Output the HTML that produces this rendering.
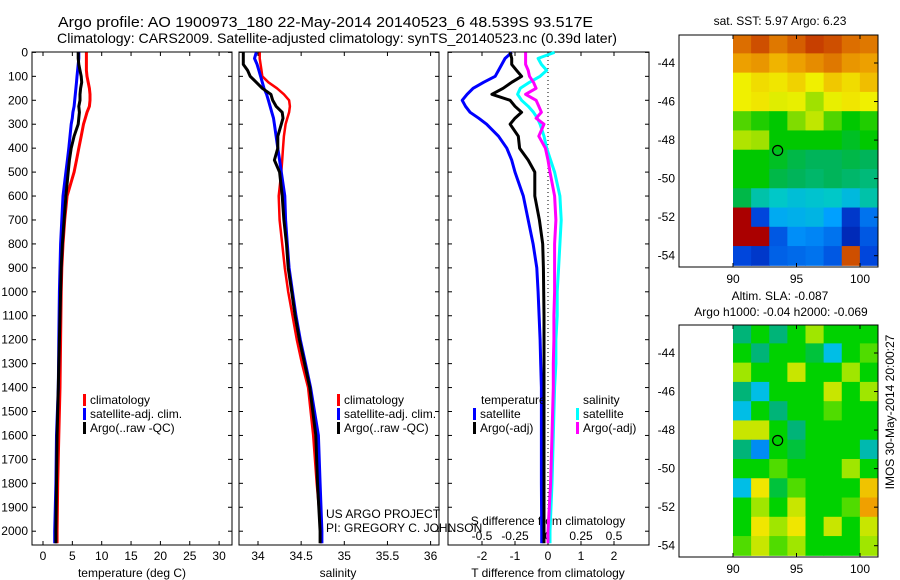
<!DOCTYPE html>
<html><head><meta charset="utf-8"><style>
body{margin:0;background:#fff}
svg{display:block;font-family:"Liberation Sans",sans-serif}
</style></head><body>
<svg id="fig" width="900" height="580" viewBox="0 0 900 580" xmlns="http://www.w3.org/2000/svg">
<rect width="900" height="580" fill="#fff"/>
<text x="58" y="27" font-size="15" textLength="535" lengthAdjust="spacingAndGlyphs">Argo profile: AO 1900973_180 22-May-2014 20140523_6 48.539S 93.517E</text>
<text x="57" y="43" font-size="14" textLength="560" lengthAdjust="spacingAndGlyphs">Climatology: CARS2009. Satellite-adjusted climatology: synTS_20140523.nc (0.39d later)</text>
<g id="g"></g>
</svg>
<script>
// ---- data ----
const depths=[0,25,50,75,100,125,150,175,200,225,250,275,300,350,400,450,500,600,700,800,900,1000,1100,1200,1300,1400,1600,1800,2000,2050];
const tClim=[7.4,7.4,7.4,7.4,7.5,7.7,7.9,8.0,8.0,7.9,7.5,7.2,6.9,6.5,6.1,5.7,5.3,4.1,3.7,3.4,3.2,3.1,3.05,3.0,2.95,2.9,2.7,2.5,2.4,2.4];
const tSat=[6.1,6.1,6.0,5.9,5.8,5.7,5.6,5.5,5.4,5.3,5.1,5.0,4.8,4.6,4.4,4.15,3.9,3.4,3.2,3.0,2.9,2.8,2.75,2.7,2.65,2.6,2.3,2.2,2.0,2.0];
const tArgo=[6.0,6.0,6.1,6.3,6.5,6.6,6.4,6.3,6.3,6.1,6.2,6.1,6.0,5.3,4.8,4.5,4.3,3.9,3.6,3.3,3.1,3.0,2.9,2.8,2.7,2.6,2.4,2.3,2.2,2.2];
const sClim=[34.02,34.02,34.03,34.04,34.05,34.12,34.22,34.30,34.36,34.37,34.36,34.34,34.32,34.30,34.29,34.28,34.27,34.24,34.25,34.28,34.31,34.35,34.40,34.45,34.51,34.58,34.64,34.68,34.73,34.73];
const sSat=[33.98,33.96,33.99,34.01,34.03,34.05,34.07,34.10,34.12,34.14,34.16,34.18,34.19,34.21,34.23,34.25,34.27,34.31,34.32,34.34,34.36,34.40,34.44,34.49,34.55,34.61,34.70,34.72,34.74,34.74];
const sArgo=[33.83,33.83,33.83,33.88,33.91,33.98,34.05,34.15,34.17,34.21,34.28,34.29,34.27,34.23,34.23,34.19,34.25,34.28,34.30,34.33,34.35,34.39,34.43,34.48,34.54,34.60,34.67,34.69,34.72,34.72];
const dtSat=[-1.1,-1.3,-1.4,-1.5,-1.6,-1.95,-2.27,-2.45,-2.6,-2.5,-2.36,-2.1,-1.86,-1.5,-1.25,-1.1,-1.0,-0.75,-0.6,-0.45,-0.34,-0.3,-0.27,-0.24,-0.22,-0.2,-0.2,-0.2,-0.19,-0.19];
const dtArgo=[-1.15,-1.1,-1.1,-0.95,-0.8,-1.1,-1.36,-1.7,-1.15,-1.0,-0.8,-1.0,-1.15,-0.9,-0.86,-0.6,-0.4,-0.4,-0.26,-0.16,-0.14,-0.13,-0.12,-0.12,-0.12,-0.12,-0.12,-0.12,-0.12,-0.12];
const dsSat=[0.05,-0.075,-0.05,-0.01,-0.06,-0.14,-0.21,-0.23,-0.2,-0.15,-0.11,-0.08,-0.06,-0.03,-0.01,0.02,0.05,0.09,0.10,0.09,0.08,0.07,0.07,0.06,0.06,0.05,0.04,0.03,0.015,0.015];
const dsArgo=[-0.17,-0.17,-0.17,-0.15,-0.14,-0.11,-0.09,-0.17,-0.09,-0.07,-0.05,-0.09,-0.03,-0.07,-0.02,0.0,0.015,0.05,0.06,0.05,0.05,0.05,0.045,0.045,0.04,0.04,0.03,0.02,0.0,0.0];
const depthTicks=[0,100,200,300,400,500,600,700,800,900,1000,1100,1200,1300,1400,1500,1600,1700,1800,1900,2000];
const tTicks=[0,5,10,15,20,25,30];
const sTicks=[34,34.5,35,35.5,36];
const dTTicks=[-2,-1,0,1,2];
const dSTicks=[-0.5,-0.25,0,0.25,0.5];
const latTicks=[-44,-46,-48,-50,-52,-54];
const lonTicks=[90,95,100];
const sstGrid=[
[9.3,9.5,9.2,9.4,9.6,9.5,9.3,9.2],
[8.8,8.9,8.6,8.8,9.0,9.2,8.9,8.8],
[8.0,8.2,8.1,8.3,8.0,8.4,8.2,8.5],
[8.0,8.1,7.8,7.9,7.0,7.9,8.1,8.0],
[6.5,6.2,6.0,6.8,7.4,6.5,6.0,6.2],
[7.2,7.0,6.0,6.0,6.0,6.0,5.8,6.0],
[6.0,6.0,5.8,5.6,5.5,5.5,5.6,5.5],
[6.0,6.0,5.6,5.5,5.4,5.5,5.4,5.3],
[5.6,5.0,4.8,4.6,4.7,4.8,4.5,5.0],
[10,3.0,4.2,4.3,4.4,4.0,2.8,3.5],
[10,10,3.2,3.8,3.7,3.5,2.6,3.2],
[3.0,2.8,3.3,3.4,3.5,3.2,9.5,3.0]];
const slaGrid=[
[-0.1,0,-0.1,0,0.1,0,0,0],
[0,-0.1,0,0,-0.05,-0.2,0,0.05],
[0.1,0,0,0.15,0,0,0.1,0],
[-0.1,-0.2,0,0,0,0.15,0,0.1],
[-0.2,0,-0.1,0,0,0.05,0,0],
[0.15,0.15,0,-0.1,0,0,0,0],
[-0.1,-0.25,0,-0.05,0,0,0,-0.15],
[0,0,0.05,0,0,0,0.1,0],
[-0.2,0.2,-0.05,0.05,0,0,0,0.25],
[0,0.1,0,0.15,0,0,0.05,0.3],
[0,0.2,0.1,0.2,0,0.15,0,0.15],
[0.05,0.15,0.05,0.1,0,0,0,0.1]];
const argoLon=93.517, argoLat=-48.539;

// ---- drawing ----
const NS="http://www.w3.org/2000/svg", G=document.getElementById('g');
function mk(t,a,p){const e=document.createElementNS(NS,t);for(const k in a)e.setAttribute(k,a[k]);(p||G).appendChild(e);return e;}
const y0=52.4, yPer=0.2394, pTop=52, pBot=545;
const yD=d=>y0+d*yPer;
function panel(x1,x2,name){
  const r=mk('rect',{x:x1,y:pTop,width:x2-x1,height:pBot-pTop,fill:'none',stroke:'#000','stroke-width':1});
  
  
}
function line(xs,fx,color,w,name){
  const pts=xs.map((v,i)=>fx(v).toFixed(1)+','+yD(depths[i]).toFixed(1)).join(' ');
  const p=mk('polyline',{points:pts,fill:'none',stroke:color,'stroke-width':w,'stroke-linejoin':'round'});
  
  
}
function txt(x,y,s,opt){const t=mk('text',Object.assign({x:x,y:y,'font-size':12},opt||{}));t.textContent=s;
  
  return t;}
const xT=v=>43+v*5.87, xS=v=>258+(v-34)*86.3, xDT=v=>548+v*33, xDS=v=>548+v*132;
panel(32,232,'temperature-panel');panel(239,439,'salinity-panel');panel(448,649,'difference-panel');
depthTicks.forEach(d=>{const y=yD(d);
  const t=txt(28,y+4,String(d),{'text-anchor':'end'});
  
  [[32,36],[228,232],[239,243],[435,439],[448,452],[645,649]].forEach(a=>mk('line',{x1:a[0],x2:a[1],y1:y,y2:y,stroke:'#000'}));
});
function xtick(x,lab,ly){txt(x,ly,lab,{'text-anchor':'middle'});mk('line',{x1:x,x2:x,y1:pBot,y2:pBot-4,stroke:'#000'});mk('line',{x1:x,x2:x,y1:pTop,y2:pTop+4,stroke:'#000'});}
tTicks.forEach(v=>xtick(xT(v),String(v),560));
sTicks.forEach(v=>xtick(xS(v),String(v),560));
dTTicks.forEach(v=>xtick(xDT(v),String(v),560));
dSTicks.forEach(v=>{txt(xDS(v),540,String(v),{'text-anchor':'middle'});});
txt(132,577,'temperature (deg C)',{'text-anchor':'middle'});
txt(338,577,'salinity',{'text-anchor':'middle'});
txt(548,577,'T difference from climatology',{'text-anchor':'middle'});
txt(548,525,'S difference from climatology',{'text-anchor':'middle'});
mk('line',{x1:548,x2:548,y1:pTop,y2:pBot,stroke:'#000','stroke-dasharray':'1,3'});
line(tClim,xT,'#f00',3,'temperature-climatology-line');
line(tSat,xT,'#00f',3,'temperature-satellite-line');
line(tArgo,xT,'#000',3,'temperature-argo-line');
line(sClim,xS,'#f00',2.5,'salinity-climatology-line');
line(sSat,xS,'#00f',3,'salinity-satellite-line');
line(sArgo,xS,'#000',3,'salinity-argo-line');
line(dsSat,xDS,'#0ff',3,'salinity-diff-satellite-line');
line(dsArgo,xDS,'#f0f',3,'salinity-diff-argo-line');
line(dtSat,xDT,'#00f',3,'temperature-diff-satellite-line');
line(dtArgo,xDT,'#000',3,'temperature-diff-argo-line');
function leg(x,y,c,s){mk('rect',{x:x,y:y-10,width:3,height:12,fill:c});txt(x+7,y,s);}
leg(83,404,'#f00','climatology');leg(83,418,'#00f','satellite-adj. clim.');leg(83,432,'#000','Argo(..raw -QC)');
leg(337,404,'#f00','climatology');leg(337,418,'#00f','satellite-adj. clim.');leg(337,432,'#000','Argo(..raw -QC)');
txt(481,404,'temperature');txt(583,404,'salinity');
leg(473,418,'#00f','satellite');leg(473,432,'#000','Argo(-adj)');
leg(576,418,'#0ff','satellite');leg(576,432,'#f0f','Argo(-adj)');
txt(326,518,'US ARGO PROJECT');txt(326,532,'PI: GREGORY C. JOHNSON');
function col(stops,v){if(v<=stops[0][0])return 'rgb('+stops[0][1].join(',')+')';
  for(let i=1;i<stops.length;i++){if(v<=stops[i][0]){const a=stops[i-1],b=stops[i],f=(v-a[0])/(b[0]-a[0]);return 'rgb('+a[1].map((c,k)=>Math.round(c+(b[1][k]-c)*f)).join(',')+')';}}
  return 'rgb('+stops[stops.length-1][1].join(',')+')';}
const sstStops=[[2,[0,0,130]],[3,[0,70,220]],[4,[0,160,255]],[4.8,[0,200,200]],[5.5,[0,180,90]],[6,[0,200,0]],[7,[160,225,0]],[8,[240,240,0]],[8.7,[240,170,0]],[9.3,[220,110,0]],[10,[170,0,0]]];
const slaStops=[[-0.3,[0,90,255]],[-0.2,[0,190,230]],[-0.1,[0,180,120]],[0,[0,210,0]],[0.1,[160,230,0]],[0.2,[240,230,0]],[0.3,[240,160,0]]];
function map(mTop,mBot,latAt44,grid,stops,name){
  const lx=lon=>733+(lon-90)*12.7, ly=lat=>latAt44+(-44-lat)*19.27;
  const cols=grid[0].length;
  const cw=(878-733)/cols;
  grid.forEach((row,i)=>row.forEach((v,j)=>{
    const ya=ly(-42.5-i), yb=ly(-43.5-i);
    const c=mk('rect',{x:733+j*cw,y:Math.max(ya,mTop),width:cw+0.5,height:Math.min(yb,mBot)-Math.max(ya,mTop)+0.5,fill:col(stops,v)});
    
    
  }));
  const fr=mk('rect',{x:679,y:mTop,width:199,height:mBot-mTop,fill:'none',stroke:'#000'});
  
  
  latTicks.forEach(l=>{const y=ly(l);txt(675,y+4,String(l),{'text-anchor':'end'});mk('line',{x1:874,x2:878,y1:y,y2:y,stroke:'#000'});});
  lonTicks.forEach(l=>{const x=lx(l);txt(x,mBot+16,String(l),{'text-anchor':'middle'});mk('line',{x1:x,x2:x,y1:mBot,y2:mBot-4,stroke:'#000'});mk('line',{x1:x,x2:x,y1:mTop,y2:mTop+4,stroke:'#000'});});
  const m=mk('circle',{cx:lx(argoLon),cy:ly(argoLat),r:5,fill:'none',stroke:'#000','stroke-width':1.2});
  
  
}
map(35,267,63,sstGrid,sstStops,'sst-map');
map(325,557,353,slaGrid,slaStops,'sla-map');
txt(780,25,'sat. SST: 5.97 Argo: 6.23',{'text-anchor':'middle'});
txt(780,300,'Altim. SLA: -0.087',{'text-anchor':'middle'});
txt(781,316,'Argo h1000: -0.04 h2000: -0.069',{'text-anchor':'middle'});
txt(894,412,'IMOS 30-May-2014 20:00:27',{'text-anchor':'middle',transform:'rotate(-90 894 412)'});
</script>
</body></html>
